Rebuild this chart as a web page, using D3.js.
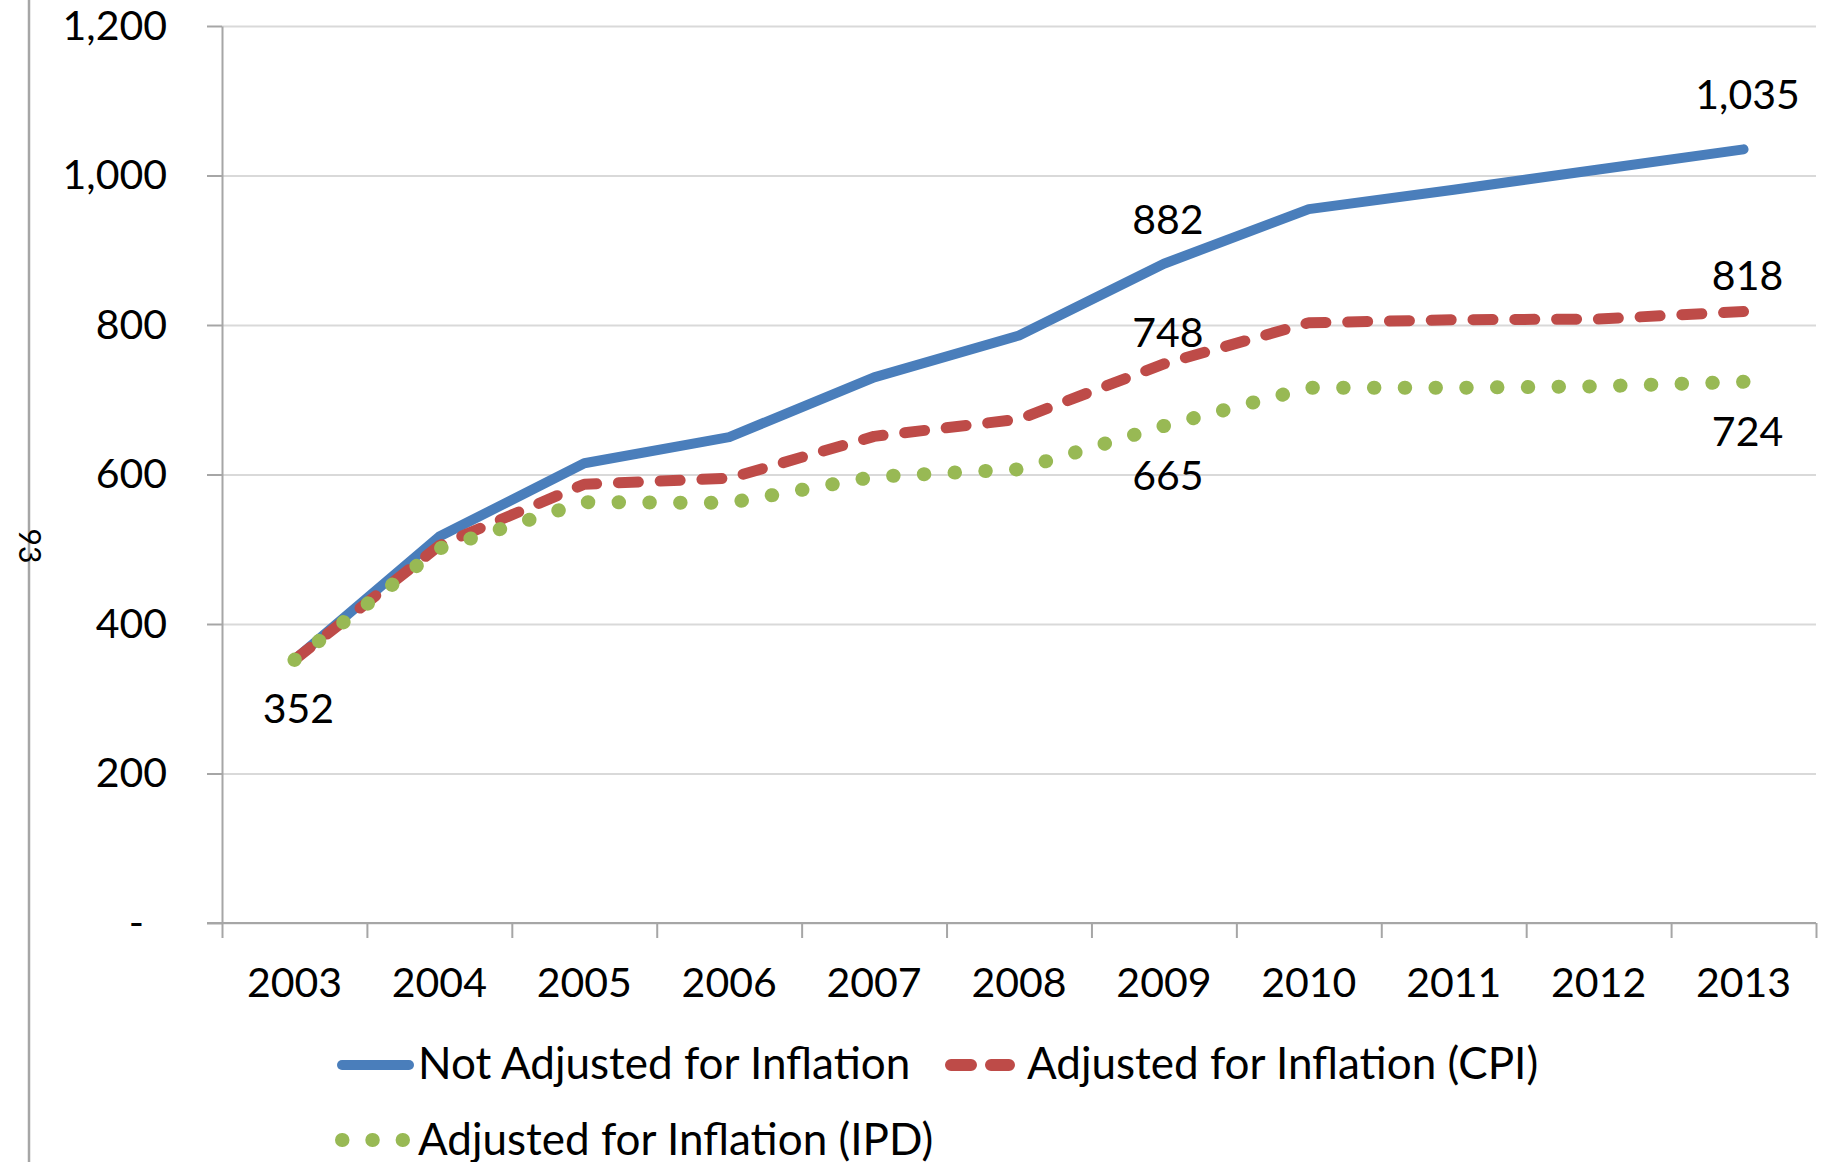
<!DOCTYPE html>

<head>
    <meta charset="utf-8">
    <!-- Load d3.js -->
    <script src="https://cdnjs.cloudflare.com/ajax/libs/d3/7.9.0/d3.js"></script>
    <style>
        body { margin: 0; background: #fff; }
        svg text { font-family: Lato, "Open Sans", sans-serif; fill: #000; }
    </style>
</head>

<body>
    <div id="chart"></div>
</body>

<script>

// The data

const years = ["2003", "2004", "2005", "2006", "2007", "2008", "2009", "2010", "2011", "2012", "2013"]

const notAdjusted = [352, 517, 615, 650, 730, 786, 882, 955, 981, 1008, 1035]
const adjustedCPI = [352, 505, 587, 595, 651, 674, 748, 803, 807, 808, 818]
const adjustedIPD = [352, 501, 563, 562, 597, 607, 665, 716, 716, 718, 724]

const seriesNames = ["Not Adjusted for Inflation", "Adjusted for Inflation (CPI)", "Adjusted for Inflation (IPD)"]

const yTicks = [0, 200, 400, 600, 800, 1000, 1200]

// which points carry a value label: [series index, year index]

const labelPoints = [[0, 6], [0, 10], [1, 6], [1, 10], [2, 0], [2, 6], [2, 10]]

const pageNumber = "93"

// set the dimensions and margins of the graph

const margin = {top: 26, right: 9, bottom: 239, left: 222}
const width = 1825 - margin.left - margin.right
const height = 1162 - margin.top - margin.bottom

const fontSize = 41
const legendFontSize = 44

// append the svg object to the body of the page

const root = d3.select("#chart")
    .append("svg")
    .attr("width", 1825)
    .attr("height", 1162)

const svg = root.append("g")
    .attr("transform", `translate(${margin.left},${margin.top})`)

// page furniture: the thin rule on the left and the rotated page number

root.append("line")
    .attr("x1", 29).attr("x2", 29)
    .attr("y1", 0).attr("y2", 1162)
    .attr("stroke", "#a6a6a6")
    .attr("stroke-width", 2.5)

root.append("text")
    .attr("transform", "translate(19,546) rotate(90)")
    .attr("text-anchor", "middle")
    .style("font-size", "30px")
    .text(pageNumber)

// Scales

const x = d3.scaleBand()
    .domain(years)
    .range([0, width])
    .padding(0)

const xEdge = d3.scaleLinear()
    .domain([0, years.length])
    .range([0, width])

const y = d3.scaleLinear()
    .domain([0, 1200])
    .range([height, 0])

// Gridlines

svg.append("g")
    .attr("class", "grid")
    .call(d3.axisLeft(y).tickValues(yTicks).tickSize(-width).tickFormat(""))
    .call(g => g.select(".domain").remove())
    .call(g => g.selectAll("line").attr("stroke", "#d9d9d9").attr("stroke-width", 2))

// Y axis

const fmt = d3.format(",")

svg.append("g")
    .call(d3.axisLeft(y).tickValues(yTicks).tickSize(15).tickSizeOuter(0).tickPadding(40)
        .tickFormat(d => d === 0 ? "-" : fmt(d)))
    .call(g => g.select(".domain").attr("stroke", "#a6a6a6").attr("stroke-width", 2))
    .call(g => g.selectAll(".tick line").attr("stroke", "#a6a6a6").attr("stroke-width", 2))
    .call(g => g.selectAll(".tick text")
        .style("font-size", fontSize + "px")
        .attr("fill", "#000")
        .attr("dx", d => d === 0 ? -23 : 0))

// X axis: tick marks at band edges, labels in band centres

svg.append("g")
    .attr("transform", `translate(0, ${height})`)
    .call(d3.axisBottom(xEdge).tickValues(d3.range(years.length + 1)).tickSize(15).tickSizeOuter(0).tickFormat(""))
    .call(g => g.select(".domain").remove())
    .call(g => g.selectAll(".tick line").attr("stroke", "#a6a6a6").attr("stroke-width", 2))

svg.append("line")
    .attr("x1", -15).attr("x2", width)
    .attr("y1", height).attr("y2", height)
    .attr("stroke", "#a6a6a6")
    .attr("stroke-width", 2)

svg.append("g")
    .attr("transform", `translate(0, ${height})`)
    .call(d3.axisBottom(x).tickSize(0).tickPadding(45))
    .call(g => g.select(".domain").remove())
    .call(g => g.selectAll(".tick text").style("font-size", fontSize + "px").attr("fill", "#000"))

// Series styles (dash = on-length, period)

const allSeries = [notAdjusted, adjustedCPI, adjustedIPD]

const styles = [
    {color: "#4a7ebb", width: 10, dash: null},
    {color: "#be4b48", width: 11, dash: [20, 42]},
    {color: "#98b954", width: 14, dash: [0.5, 30.8]}
]

// d3 line generator

const line = d3.line()
    .x((d, i) => x(years[i]) + x.bandwidth() / 2)
    .y(d => y(d))

// Draw the lines; the dash period is stretched a touch so a mark lands on the last point

svg.selectAll(".series")
    .data(allSeries)
    .join("path")
    .attr("class", "series")
    .attr("fill", "none")
    .attr("stroke", (d, i) => styles[i].color)
    .attr("stroke-width", (d, i) => styles[i].width)
    .attr("stroke-linecap", "round")
    .attr("stroke-linejoin", "round")
    .attr("d", line)
    .each(function(d, i) {
        const s = styles[i]
        if (!s.dash) return
        const len = this.getTotalLength() - s.dash[0]
        const period = len / Math.round(len / s.dash[1])
        d3.select(this).attr("stroke-dasharray", `${s.dash[0]},${period - s.dash[0]}`)
    })

// Value labels. Offsets of the baseline from the point, roughly as placed in the original

const labelOffset = {"0,6": -30, "0,10": -40, "1,6": -17, "1,10": -22, "2,0": 63, "2,6": 64, "2,10": 64}

svg.selectAll(".valueLabel")
    .data(labelPoints)
    .join("text")
    .attr("class", "valueLabel")
    .attr("text-anchor", "middle")
    .attr("x", d => x(years[d[1]]) + x.bandwidth() / 2 + 4)
    .attr("y", d => y(allSeries[d[0]][d[1]]) + labelOffset[d.join(",")])
    .style("font-size", fontSize + "px")
    .text(d => fmt(allSeries[d[0]][d[1]]))

// Legend

const legendItems = [
    {x: 342, y: 1065, len: 67, textX: 418, base: 1079, dash: null, w: 10},
    {x: 951, y: 1065, len: 58, textX: 1027, base: 1079, dash: "20,20", w: 12},
    {x: 342, y: 1140, len: 61, textX: 418, base: 1155, dash: "0.5,29.8", w: 14}
]

const legend = root.append("g")

legendItems.forEach((item, i) => {

    legend.append("line")
        .attr("x1", item.x).attr("x2", item.x + item.len)
        .attr("y1", item.y).attr("y2", item.y)
        .attr("stroke", styles[i].color)
        .attr("stroke-width", item.w)
        .attr("stroke-linecap", "round")
        .attr("stroke-dasharray", item.dash)

    legend.append("text")
        .attr("x", item.textX)
        .attr("y", item.base)
        .style("font-size", legendFontSize + "px")
        .text(seriesNames[i])
})

</script>
